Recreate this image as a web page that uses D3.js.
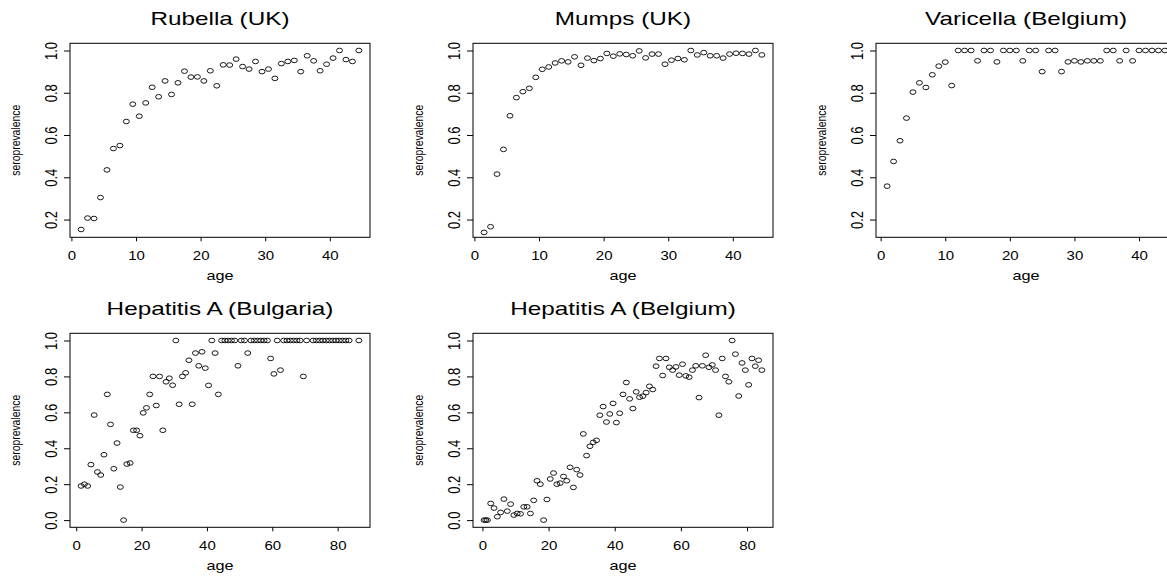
<!DOCTYPE html>
<html>
<head>
<meta charset="utf-8">
<script src="https://cdn.jsdelivr.net/npm/d3@7"></script>
<style>
  body { margin: 0; background: #fff; }
  svg { display: block; font-family: "Liberation Sans", Arial, sans-serif; }
</style>
</head>
<body>
<svg id="chart" width="1167" height="578"></svg>
<script>
// ---- data ----
var titles = ["Rubella (UK)", "Mumps (UK)", "Varicella (Belgium)", "Hepatitis A (Bulgaria)", "Hepatitis A (Belgium)"];

var rubellaAge = [1.5,2.5,3.5,4.5,5.5,6.5,7.5,8.5,9.5,10.5,11.5,12.5,13.5,14.5,15.5,16.5,17.5,18.5,19.5,20.5,21.5,22.5,
  23.5,24.5,25.5,26.5,27.5,28.5,29.5,30.5,31.5,32.5,33.5,34.5,35.5,36.5,37.5,38.5,39.5,40.5,41.5,42.5,43.5,44.5];
var rubellaSero = [0.153,0.207,0.205,0.304,0.435,0.536,0.55,0.664,0.746,0.689,0.752,0.826,0.781,0.856,0.792,0.847,0.902,0.874,
  0.875,0.856,0.904,0.833,0.932,0.931,0.959,0.924,0.912,0.948,0.9,0.912,0.868,0.938,0.948,0.953,0.9,0.975,0.951,0.904,0.935,
  0.964,1.0,0.957,0.948,1.0];

var mumpsAge = [1.5,2.5,3.5,4.5,5.5,6.5,7.5,8.5,9.5,10.5,11.5,12.5,13.5,14.5,15.5,16.5,17.5,18.5,19.5,20.5,21.5,22.5,
  23.5,24.5,25.5,26.5,27.5,28.5,29.5,30.5,31.5,32.5,33.5,34.5,35.5,36.5,37.5,38.5,39.5,40.5,41.5,42.5,43.5,44.5];
var mumpsSero = [0.139,0.166,0.415,0.532,0.691,0.777,0.805,0.821,0.873,0.911,0.922,0.941,0.951,0.946,0.97,0.93,0.964,0.952,
  0.962,0.986,0.973,0.984,0.981,0.975,0.998,0.965,0.983,0.983,0.935,0.954,0.962,0.956,1.0,0.979,0.99,0.975,0.975,0.964,
  0.983,0.987,0.986,0.983,1.0,0.979];

var varicellaAge = [1,2,3,4,5,6,7,8,9,10,11,12,13,14,15,16,17,18,19,20,21,22,23,24,25,26,27,28,29,30,31,32,33,34,35,36,
  37,38,39,40,41,42,43,44];
var varicellaSero = [0.358,0.475,0.573,0.68,0.803,0.847,0.825,0.885,0.926,0.945,0.834,1,1,1,0.951,1,1,0.946,1,1,1,0.951,
  1,1,0.9,1,1,0.9,0.946,0.951,0.946,0.951,0.951,0.951,1,1,0.951,1,0.951,1,1,1,1,1];

var hepBgAge = [1.5,2.5,3.5,4.5,5.5,6.5,7.5,8.5,9.5,10.5,11.5,12.5,13.5,14.5,15.5,16.5,17.5,18.5,19.5,20.5,21.5,22.5,23.5,
  24.5,25.5,26.5,27.5,28.5,29.5,30.5,31.5,32.5,33.5,34.5,35.5,36.5,37.5,38.5,39.5,40.5,41.5,42.5,43.5,44.5,45.5,46.5,47.5,
  48.5,49.5,50.5,51.5,52.5,53.5,54.5,55.5,56.5,57.5,58.5,59.5,60.5,61.5,62.5,63.5,64.5,65.5,66.5,67.5,68.5,69.5,70.5,
  72.5,73.5,74.5,75.5,76.5,77.5,78.5,79.5,80.5,81.5,82.5,83.5,86.5];
var hepBgSero = [0.19,0.2,0.19,0.309,0.585,0.268,0.251,0.364,0.7,0.533,0.286,0.429,0.184,0,0.312,0.318,0.5,0.5,0.47,0.597,
  0.625,0.7,0.8,0.638,0.8,0.5,0.77,0.79,0.751,1,0.645,0.8,0.82,0.89,0.645,0.93,0.859,0.937,0.846,0.75,1,0.93,0.7,
  1,1,1,1,1,0.859,1,1,0.93,1,1,1,1,1,1,0.9,0.814,1,0.835,1,1,1,1,1,1,0.8,1,
  1,1,1,1,1,1,1,1,1,1,1,1,1];

var hepBeAge = [0.5,1,1.5,2.5,3.5,4.5,5.5,6.5,7.5,8.5,9.5,10.5,11.5,12.5,13.5,14.5,15.5,16.5,17.5,18.5,19.5,20.5,21.5,22.5,
  23.5,24.5,25.5,26.5,27.5,28.5,29.5,30.5,31.5,32.5,33.5,34.5,35.5,36.5,37.5,38.5,39.5,40.5,41.5,42.5,43.5,44.5,45.5,46.5,
  47.5,48.5,49.5,50.5,51.5,52.5,53.5,54.5,55.5,56.5,57.5,58.5,59.5,60.5,61.5,62.5,63.5,64.5,65.5,66.5,67.5,68.5,69.5,
  70.5,71.5,72.5,73.5,74.5,75.5,76.5,77.5,78.5,79.5,80.5,81.5,82.5,83.5,84.5];
var hepBeSero = [0,0,0,0.093,0.067,0.019,0.043,0.117,0.05,0.089,0.028,0.037,0.035,0.074,0.074,0.037,0.11,0.219,0.2,0,
  0.115,0.229,0.262,0.2,0.206,0.243,0.219,0.294,0.182,0.281,0.251,0.48,0.359,0.411,0.433,0.444,0.584,0.632,0.546,0.591,
  0.65,0.543,0.595,0.7,0.766,0.675,0.621,0.714,0.684,0.69,0.71,0.745,0.727,0.857,0.9,0.805,0.9,0.851,0.835,0.853,
  0.807,0.868,0.803,0.796,0.835,0.859,0.682,0.859,0.918,0.851,0.864,0.835,0.584,0.9,0.8,0.77,1,0.924,0.691,0.875,
  0.835,0.753,0.9,0.857,0.89,0.835];

var ylimTop = [0.15, 1], ylimBottom = [0, 1];
var xticksTop = [0, 10, 20, 30, 40], xticksBottom = [0, 20, 40, 60, 80];
var yticksTop = [0.2, 0.4, 0.6, 0.8, 1.0], yticksBottom = [0, 0.2, 0.4, 0.6, 0.8, 1.0];

// ---- layout ----
var W = 300, H = 194;
var colX = [70, 473, 876], rowY = [43.3, 333.3];
var SX = 1.25; // the original picture is stretched sideways, text included

var panels = [
  {title: titles[0], age: rubellaAge, sero: rubellaSero, ylim: ylimTop, xt: xticksTop, yt: yticksTop, col: 0, row: 0},
  {title: titles[1], age: mumpsAge, sero: mumpsSero, ylim: ylimTop, xt: xticksTop, yt: yticksTop, col: 1, row: 0},
  {title: titles[2], age: varicellaAge, sero: varicellaSero, ylim: ylimTop, xt: xticksTop, yt: yticksTop, col: 2, row: 0},
  {title: titles[3], age: hepBgAge, sero: hepBgSero, ylim: ylimBottom, xt: xticksBottom, yt: yticksBottom, col: 0, row: 1},
  {title: titles[4], age: hepBeAge, sero: hepBeSero, ylim: ylimBottom, xt: xticksBottom, yt: yticksBottom, col: 1, row: 1}
];

// R-style 4% padding of the axis range
function pad(r) {
  var d = (r[1] - r[0]) * 0.04;
  return [r[0] - d, r[1] + d];
}

var svg = d3.select("#chart");

panels.forEach(function(p) {
  var g = svg.append("g")
      .attr("transform", "translate(" + colX[p.col] + "," + rowY[p.row] + ")");

  var x = d3.scaleLinear().domain(pad(d3.extent(p.age))).range([0, W]);
  var y = d3.scaleLinear().domain(pad(p.ylim)).range([H, 0]);

  // x axis
  var gx = g.append("g")
      .attr("transform", "translate(0," + H + ")")
      .call(d3.axisBottom(x).tickValues(p.xt).tickSize(4).tickPadding(10).tickFormat(d3.format("d")));
  gx.attr("font-family", null).attr("font-size", null);
  gx.select(".domain").remove();
  gx.selectAll(".tick line").attr("stroke", "#000");
  gx.selectAll(".tick text")
      .attr("fill", "#000")
      .attr("font-size", 12)
      .attr("transform", "scale(" + SX + ",1)");

  // y axis, labels turned like R's las = 0
  var gy = g.append("g")
      .call(d3.axisLeft(y).tickValues(p.yt).tickSize(6).tickFormat(d3.format(".1f")));
  gy.attr("font-family", null).attr("font-size", null).attr("text-anchor", "middle");
  gy.select(".domain").remove();
  gy.selectAll(".tick line").attr("stroke", "#000");
  gy.selectAll(".tick text")
      .attr("fill", "#000")
      .attr("font-size", 13)
      .attr("x", 0).attr("y", 0).attr("dy", "0.35em")
      .attr("transform", "translate(-19,0) scale(" + SX + ",1) rotate(-90)");

  // frame
  g.append("rect")
      .attr("width", W).attr("height", H)
      .attr("fill", "none").attr("stroke", "#000").attr("stroke-width", 1);

  // points (R pch = 1)
  g.selectAll(".pt")
      .data(p.age.map(function(a, i) { return [a, p.sero[i]]; }))
    .enter().append("ellipse")
      .attr("class", "pt")
      .attr("cx", function(d) { return x(d[0]); })
      .attr("cy", function(d) { return y(d[1]); })
      .attr("rx", 3).attr("ry", 2.3)
      .attr("fill", "none").attr("stroke", "#000").attr("stroke-width", 0.9);

  // title
  g.append("text")
      .attr("transform", "translate(" + (W / 2) + ",-18) scale(1.35,1)")
      .attr("text-anchor", "middle")
      .attr("font-size", 18)
      .text(p.title);

  // axis titles
  g.append("text")
      .attr("transform", "translate(" + (W / 2) + "," + (H + 43) + ") scale(" + SX + ",1)")
      .attr("text-anchor", "middle")
      .attr("font-size", 13)
      .text("age");

  g.append("text")
      .attr("transform", "translate(-55," + (H / 2) + ") scale(1.2,1) rotate(-90)")
      .attr("text-anchor", "middle")
      .attr("dy", "0.35em")
      .attr("font-size", 11)
      .attr("textLength", 71)
      .attr("lengthAdjust", "spacingAndGlyphs")
      .text("seroprevalence");
});
</script>
</body>
</html>
